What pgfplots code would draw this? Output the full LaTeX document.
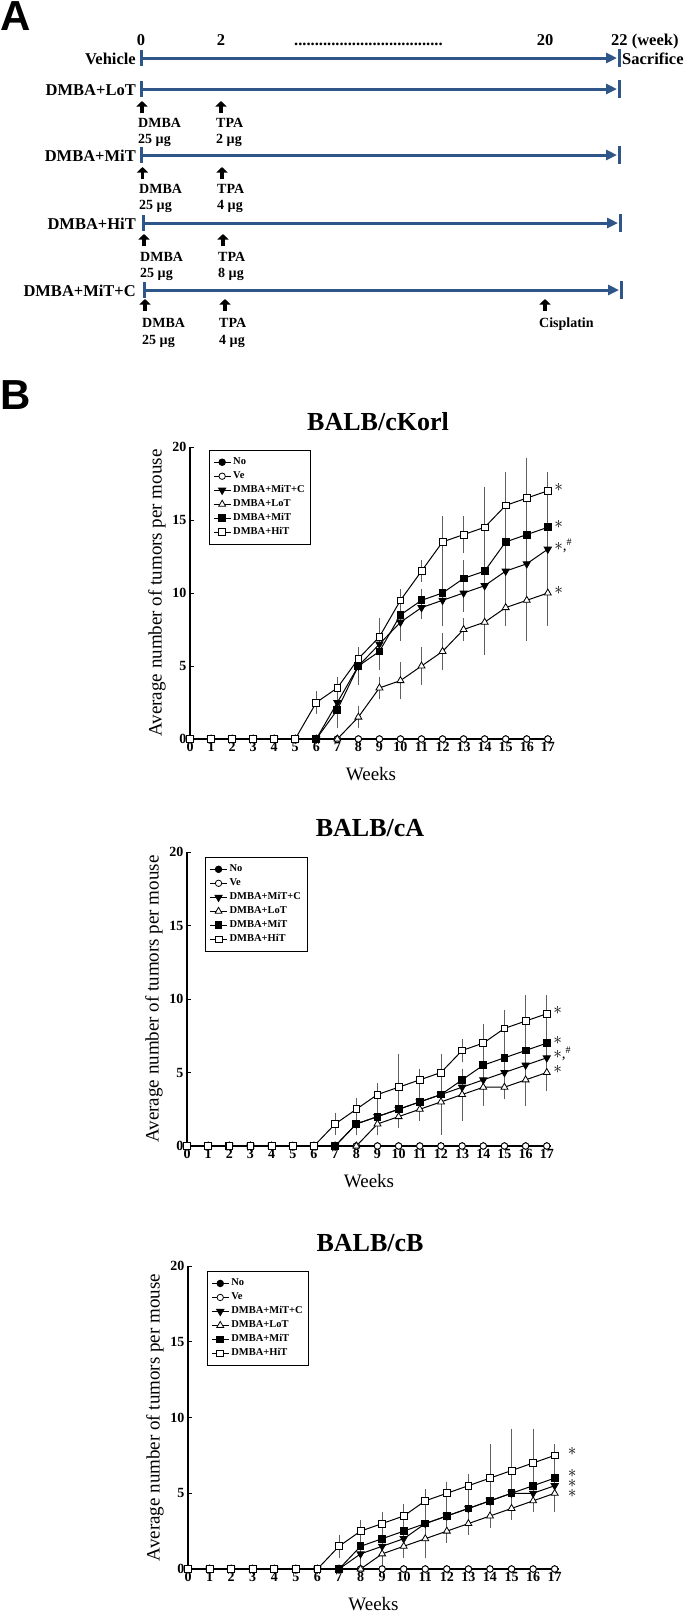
\documentclass[border=0pt]{standalone}
\usepackage{fontspec}
\setmainfont{Liberation Serif}
\newfontfamily\panelfont{Liberation Sans}
\usepackage{pgfplots}
\usepackage{pgfplotstable}
\pgfplotsset{compat=1.18}
\usetikzlibrary{arrows.meta}

\definecolor{tlblue}{RGB}{46,86,136}
\definecolor{ebar}{RGB}{95,95,95}

\newcommand\fRow{\fontsize{16.5}{16.5}\selectfont\bfseries}
\newcommand\fSub{\fontsize{14}{14}\selectfont\bfseries}
\newcommand\fTitle{\fontsize{26}{26}\selectfont\bfseries}
\newcommand\fPanel{\panelfont\fontsize{42}{42}\selectfont\bfseries}
\newcommand\st{\fontsize{18}{18}\selectfont$\ast$}
\newcommand\sth{\fontsize{18}{18}\selectfont$\ast$\fontsize{15}{15}\selectfont,\raisebox{5pt}{\fontsize{10}{10}\selectfont\#}}
\tikzset{stnode/.style={anchor=west, inner sep=0, text height=4pt, text depth=2pt}}

% week, No, Ve, DMBA+MiT+C, DMBA+LoT, DMBA+MiT, DMBA+HiT (mean and error)
\pgfplotstableread{
x  No Ve MC  eMC Lo  eLo Mi   eMi Hi   eHi
0  0  0  0   0   0   0   0    0   0    0
1  0  0  0   0   0   0   0    0   0    0
2  0  0  0   0   0   0   0    0   0    0
3  0  0  0   0   0   0   0    0   0    0
4  0  0  0   0   0   0   0    0   0    0
5  0  0  0   0   0   0   0    0   0    0
6  0  0  0   0   0   0   0    0   2.5  0.5
7  0  0  2.5 1   0   0   2    1   3.5  0.5
8  0  0  5   1   1.5 0.5 5    1   5.5  0.5
9  0  0  6.5 1.5 3.5 0.5 6    1   7    1
10 0  0  8   1   4   1   8.5  1.5 9.5  0.5
11 0  0  9   0.5 5   1   9.5  0.5 11.5 0.5
12 0  0  9.5 1.5 6   1   10   2   13.5 1.5
13 0  0  10  1   7.5 0.5 11   1   14   1
14 0  0  10.5 1.5 8  2   11.5 1.5 14.5 2.5
15 0  0  11.5 1  9   1   13.5 1.5 16   2
16 0  0  12  1   9.5 2.5 14   0.5 16.5 2.5
17 0  0  13  1   10  2   14.5 1.5 17   1
}\korl

\pgfplotstableread{
x  No Ve MC  eMC Lo  eLo Mi  eMi Hi  eHi
0  0  0  0   0   0   0   0   0   0   0
1  0  0  0   0   0   0   0   0   0   0
2  0  0  0   0   0   0   0   0   0   0
3  0  0  0   0   0   0   0   0   0   0
4  0  0  0   0   0   0   0   0   0   0
5  0  0  0   0   0   0   0   0   0   0
6  0  0  0   0   0   0   0   0   0   0
7  0  0  0   0   0   0   0   0   1.5 0.5
8  0  0  1.5 0.5 0   0   1.5 0.5 2.5 0.5
9  0  0  2   1   1.5 0.5 2   1   3.5 0.5
10 0  0  2.5 1   2   0.5 2.5 1   4   2
11 0  0  3   1   2.5 0.5 3   1   4.5 0.5
12 0  0  3.5 1   3   2   3.5 1   5   1
13 0  0  4   1   3.5 1.5 4.5 0.5 6.5 0.5
14 0  0  4.5 1   4   1   5.5 1   7   1
15 0  0  5   1   4   0.5 6   1   8   1
16 0  0  5.5 1.5 4.5 1.5 6.5 1   8.5 1.5
17 0  0  6   1   5   1   7   1   9   1
}\cA

\pgfplotstableread{
x  No Ve MC  eMC Lo  eLo Mi  eMi Hi  eHi
0  0  0  0   0   0   0   0   0   0   0
1  0  0  0   0   0   0   0   0   0   0
2  0  0  0   0   0   0   0   0   0   0
3  0  0  0   0   0   0   0   0   0   0
4  0  0  0   0   0   0   0   0   0   0
5  0  0  0   0   0   0   0   0   0   0
6  0  0  0   0   0   0   0   0   0   0
7  0  0  0   0   0   0   0   0   1.5 0.5
8  0  0  1   0.5 0   0   1.5 0.5 2.5 0.5
9  0  0  1.5 0.5 1   0.5 2   0.5 3   0.5
10 0  0  2   0.5 1.5 0.5 2.5 0.5 3.5 0.5
11 0  0  3   0.5 2   1   3   0.5 4.5 0.5
12 0  0  3.5 0.5 2.5 0.5 3.5 0.5 5   0.5
13 0  0  4   0.5 3   0.5 4   1   5.5 0.5
14 0  0  4.5 0.5 3.5 0.5 4.5 0.5 6   2
15 0  0  5   0.5 4   0.5 5   1   6.5 2.5
16 0  0  5   0.5 4.5 0.5 5.5 0.5 7   2
17 0  0  5.5 1   5   1   6   1   7.5 0.5
}\cB

\pgfplotsset{
  tumor/.style={
    scale only axis, axis lines*=left, clip=false,
    xmin=0, xmax=17.2, ymin=0, ymax=20,
    xtick={0,...,17}, ytick={0,5,10,15,20},
    xtick pos=left, ytick pos=left, tick align=inside, major tick length=4pt,
    axis line style={line width=1.2pt}, tick style={line width=1pt, black},
    ticklabel style={font=\fontsize{14}{14}\selectfont\bfseries},
    /pgf/number format/assume math mode=true,
    xlabel={Weeks}, ylabel={Average number of tumors per mouse},
    label style={font=\fontsize{19}{19}\selectfont},
    xlabel style={at={(axis description cs:0.5,0)}, anchor=center, yshift=-35pt},
    ylabel style={at={(axis description cs:0,0.5)}, anchor=center, yshift=33pt},
    legend cell align=left,
    legend style={anchor=north west, draw=black, line width=0.6pt,
      font=\fontsize{10.5}{10.5}\selectfont\bfseries,
      inner xsep=4pt, inner ysep=5pt, row sep=0pt,
      nodes={inner ysep=2pt, text height=7.5pt, text depth=2.5pt}},
  },
  ser/.style={black, line width=1pt},
  sNo/.style={ser, mark=*, mark size=3.2pt, mark options={solid, fill=black}},
  sVe/.style={ser, mark=*, mark size=3.2pt, mark options={solid, fill=white, line width=0.8pt}},
  sMC/.style={ser, mark=triangle*, mark size=4pt, mark options={solid, rotate=180, fill=black}},
  sLo/.style={ser, mark=triangle*, mark size=4pt, mark options={solid, fill=white, line width=0.8pt}},
  sMi/.style={ser, mark=square*, mark size=3.4pt, mark options={solid, fill=black}},
  sHi/.style={ser, mark=square*, mark size=3.4pt, mark options={solid, fill=white, line width=0.8pt}},
  eb/.style={forget plot, only marks, mark=none,
    error bars/y dir=both, error bars/y explicit,
    error bars/error bar style={draw=ebar, line width=0.9pt},
    error bars/error mark options={draw=ebar, mark size=4pt, line width=0.9pt}},
}

\begin{document}
\begin{tikzpicture}
\useasboundingbox (0,0) rectangle (685pt,-1613pt);

% ---------- panel A and the page texts, in pixel coordinates
\begin{axis}[at={(0,0)}, anchor=north west, scale only axis,
  width=685pt, height=1613pt, xmin=0, xmax=685, ymin=0, ymax=1613,
  y dir=reverse, axis lines=none, clip=false]
\node[anchor=west, inner sep=0, font=\fPanel] at (axis cs:0,16) {A};
\node[anchor=west, inner sep=0, font=\fPanel] at (axis cs:0,395) {B};

\node[anchor=base, font=\fRow] at (axis cs:141,45) {0};
\node[anchor=base, font=\fRow] at (axis cs:221,45) {2};
\node[anchor=base west, inner sep=0, font=\fRow] at (axis cs:294,45) {....................................};
\node[anchor=base, font=\fRow] at (axis cs:545,45) {20};
\node[anchor=base west, inner sep=0, font=\fRow] at (axis cs:611,45) {22 (week)};
\node[anchor=base west, inner sep=0, font=\fRow] at (axis cs:622,64) {Sacrifice};

% timelines
\addplot[tlblue, line width=3pt, -{Triangle[length=11pt,width=10pt]}] coordinates {(141,58) (617,58)};
\addplot[tlblue, line width=3pt] coordinates {(141,50) (141,66)};
\addplot[tlblue, line width=3pt] coordinates {(619,49) (619,67)};
\node[anchor=base east, inner sep=0, font=\fRow] at (axis cs:136,64) {Vehicle};

\addplot[tlblue, line width=3pt, -{Triangle[length=11pt,width=10pt]}] coordinates {(141,89) (617,89)};
\addplot[tlblue, line width=3pt] coordinates {(141,81) (141,97)};
\addplot[tlblue, line width=3pt] coordinates {(619,80) (619,98)};
\node[anchor=base east, inner sep=0, font=\fRow] at (axis cs:136,95) {DMBA+LoT};

\addplot[tlblue, line width=3pt, -{Triangle[length=11pt,width=10pt]}] coordinates {(141.5,155) (617,155)};
\addplot[tlblue, line width=3pt] coordinates {(141.5,147) (141.5,163)};
\addplot[tlblue, line width=3pt] coordinates {(619,146) (619,164)};
\node[anchor=base east, inner sep=0, font=\fRow] at (axis cs:136,161) {DMBA+MiT};

\addplot[tlblue, line width=3pt, -{Triangle[length=11pt,width=10pt]}] coordinates {(143,223) (618,223)};
\addplot[tlblue, line width=3pt] coordinates {(143,215) (143,231)};
\addplot[tlblue, line width=3pt] coordinates {(620,214) (620,232)};
\node[anchor=base east, inner sep=0, font=\fRow] at (axis cs:136,229) {DMBA+HiT};

\addplot[tlblue, line width=3pt, -{Triangle[length=11pt,width=10pt]}] coordinates {(144,290) (619,290)};
\addplot[tlblue, line width=3pt] coordinates {(144,282) (144,298)};
\addplot[tlblue, line width=3pt] coordinates {(621,281) (621,299)};
\node[anchor=base east, inner sep=0, font=\fRow] at (axis cs:136,296) {DMBA+MiT+C};

% dosing arrows
\addplot[black, line width=3.5pt, -{Triangle[length=5.5pt,width=11pt]}] coordinates {(142,113) (142,101)};
\addplot[black, line width=3.5pt, -{Triangle[length=5.5pt,width=11pt]}] coordinates {(221,113) (221,101)};
\addplot[black, line width=3.5pt, -{Triangle[length=5.5pt,width=11pt]}] coordinates {(142.5,179) (142.5,167)};
\addplot[black, line width=3.5pt, -{Triangle[length=5.5pt,width=11pt]}] coordinates {(222,179) (222,167)};
\addplot[black, line width=3.5pt, -{Triangle[length=5.5pt,width=11pt]}] coordinates {(144,246) (144,234)};
\addplot[black, line width=3.5pt, -{Triangle[length=5.5pt,width=11pt]}] coordinates {(223,246) (223,234)};
\addplot[black, line width=3.5pt, -{Triangle[length=5.5pt,width=11pt]}] coordinates {(145,311) (145,299)};
\addplot[black, line width=3.5pt, -{Triangle[length=5.5pt,width=11pt]}] coordinates {(225,311) (225,299)};
\addplot[black, line width=3.5pt, -{Triangle[length=5.5pt,width=11pt]}] coordinates {(545,311) (545,299)};

\node[anchor=base west, inner sep=0, font=\fSub] at (axis cs:138,127) {DMBA};
\node[anchor=base west, inner sep=0, font=\fSub] at (axis cs:138,143) {25 µg};
\node[anchor=base west, inner sep=0, font=\fSub] at (axis cs:216,127) {TPA};
\node[anchor=base west, inner sep=0, font=\fSub] at (axis cs:216,143) {2 µg};

\node[anchor=base west, inner sep=0, font=\fSub] at (axis cs:139,193) {DMBA};
\node[anchor=base west, inner sep=0, font=\fSub] at (axis cs:139,209) {25 µg};
\node[anchor=base west, inner sep=0, font=\fSub] at (axis cs:217,193) {TPA};
\node[anchor=base west, inner sep=0, font=\fSub] at (axis cs:217,209) {4 µg};

\node[anchor=base west, inner sep=0, font=\fSub] at (axis cs:140,261) {DMBA};
\node[anchor=base west, inner sep=0, font=\fSub] at (axis cs:140,277) {25 µg};
\node[anchor=base west, inner sep=0, font=\fSub] at (axis cs:218,261) {TPA};
\node[anchor=base west, inner sep=0, font=\fSub] at (axis cs:218,277) {8 µg};

\node[anchor=base west, inner sep=0, font=\fSub] at (axis cs:142,327) {DMBA};
\node[anchor=base west, inner sep=0, font=\fSub] at (axis cs:142,344) {25 µg};
\node[anchor=base west, inner sep=0, font=\fSub] at (axis cs:219,327) {TPA};
\node[anchor=base west, inner sep=0, font=\fSub] at (axis cs:219,344) {4 µg};
\node[anchor=base west, inner sep=0, font=\fSub] at (axis cs:539,327) {Cisplatin};

% panel B titles
\node[font=\fTitle] at (axis cs:378,422) {BALB/cKorl};
\node[font=\fTitle] at (axis cs:370,828) {BALB/cA};
\node[font=\fTitle] at (axis cs:370,1243) {BALB/cB};
\end{axis}

% ---------- BALB/cKorl
\begin{axis}[tumor, at={(190pt,-739pt)}, anchor=south west,
  width=362pt, height=292pt, legend style={at={(0.052,0.99)}}]
\addplot[eb, skip coords between index={0}{7}] table[x=x, y=MC, y error=eMC] {\korl};
\addplot[eb, skip coords between index={0}{8}] table[x=x, y=Lo, y error=eLo] {\korl};
\addplot[eb, skip coords between index={0}{7}] table[x=x, y=Mi, y error=eMi] {\korl};
\addplot[eb, skip coords between index={0}{6}] table[x=x, y=Hi, y error=eHi] {\korl};
\addplot[sNo] table[x=x, y=No] {\korl};
\addplot[sVe] table[x=x, y=Ve] {\korl};
\addplot[sMC] table[x=x, y=MC] {\korl};
\addplot[sLo] table[x=x, y=Lo] {\korl};
\addplot[sMi] table[x=x, y=Mi] {\korl};
\addplot[sHi] table[x=x, y=Hi] {\korl};
\legend{No, Ve, DMBA+MiT+C, DMBA+LoT, DMBA+MiT, DMBA+HiT}
\node[stnode] at (axis cs:17.3,17) {\st};
\node[stnode] at (axis cs:17.3,14.5) {\st};
\node[stnode] at (axis cs:17.3,13) {\sth};
\node[stnode] at (axis cs:17.3,10) {\st};
\end{axis}

% ---------- BALB/cA
\begin{axis}[tumor, at={(187pt,-1146pt)}, anchor=south west,
  width=364pt, height=294pt, legend style={at={(0.05,0.983)}}]
\addplot[eb, skip coords between index={0}{8}] table[x=x, y=MC, y error=eMC] {\cA};
\addplot[eb, skip coords between index={0}{9}] table[x=x, y=Lo, y error=eLo] {\cA};
\addplot[eb, skip coords between index={0}{8}] table[x=x, y=Mi, y error=eMi] {\cA};
\addplot[eb, skip coords between index={0}{7}] table[x=x, y=Hi, y error=eHi] {\cA};
\addplot[sNo] table[x=x, y=No] {\cA};
\addplot[sVe] table[x=x, y=Ve] {\cA};
\addplot[sMC] table[x=x, y=MC] {\cA};
\addplot[sLo] table[x=x, y=Lo] {\cA};
\addplot[sMi] table[x=x, y=Mi] {\cA};
\addplot[sHi] table[x=x, y=Hi] {\cA};
\legend{No, Ve, DMBA+MiT+C, DMBA+LoT, DMBA+MiT, DMBA+HiT}
\node[stnode] at (axis cs:17.3,9) {\st};
\node[stnode] at (axis cs:17.3,7) {\st};
\node[stnode] at (axis cs:17.3,6) {\sth};
\node[stnode] at (axis cs:17.3,5) {\st};
\end{axis}

% ---------- BALB/cB
\begin{axis}[tumor, at={(188pt,-1569pt)}, anchor=south west,
  width=371pt, height=303pt, legend style={at={(0.051,0.983)}}]
\addplot[eb, skip coords between index={0}{8}] table[x=x, y=MC, y error=eMC] {\cB};
\addplot[eb, skip coords between index={0}{9}] table[x=x, y=Lo, y error=eLo] {\cB};
\addplot[eb, skip coords between index={0}{8}] table[x=x, y=Mi, y error=eMi] {\cB};
\addplot[eb, skip coords between index={0}{7}] table[x=x, y=Hi, y error=eHi] {\cB};
\addplot[sNo] table[x=x, y=No] {\cB};
\addplot[sVe] table[x=x, y=Ve] {\cB};
\addplot[sMC] table[x=x, y=MC] {\cB};
\addplot[sLo] table[x=x, y=Lo] {\cB};
\addplot[sMi] table[x=x, y=Mi] {\cB};
\addplot[sHi] table[x=x, y=Hi] {\cB};
\legend{No, Ve, DMBA+MiT+C, DMBA+LoT, DMBA+MiT, DMBA+HiT}
\node[stnode] at (axis cs:17.6,7.55) {\st};
\node[stnode] at (axis cs:17.6,6.1) {\st};
\node[stnode] at (axis cs:17.6,5.45) {\st};
\node[stnode] at (axis cs:17.6,4.8) {\st};
\end{axis}
\end{tikzpicture}
\end{document}
